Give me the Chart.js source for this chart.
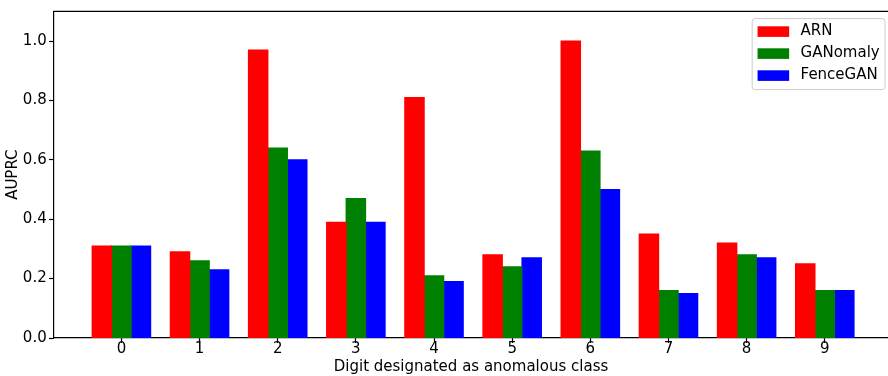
<!DOCTYPE html>
<html>
<head>
<meta charset="utf-8">
<script src="https://cdn.jsdelivr.net/npm/chart.js@4.4.1/dist/chart.umd.min.js"></script>
<style>
  html, body { margin: 0; padding: 0; background: #fff; overflow: hidden; }
  #wrap { width: 888px; height: 376px; }
</style>
</head>
<body>
<div id="wrap"><canvas id="c" width="888" height="376"></canvas></div>
<script>
// Digit held out as the anomalous class
const digits = ['0', '1', '2', '3', '4', '5', '6', '7', '8', '9'];

// AUPRC per method
const arn      = [0.31, 0.29, 0.97, 0.39, 0.81, 0.28, 1.00, 0.35, 0.32, 0.25];
const ganomaly = [0.31, 0.26, 0.64, 0.47, 0.21, 0.24, 0.63, 0.16, 0.28, 0.16];
const fencegan = [0.31, 0.23, 0.60, 0.39, 0.19, 0.27, 0.50, 0.15, 0.27, 0.16];

const methodNames = ['ARN', 'GANomaly', 'FenceGAN'];
const yTicks = [0.0, 0.2, 0.4, 0.6, 0.8, 1.0];

const FONT = 'DejaVu Sans';
const FONT_SIZE = 15;
const SPINE = 1.2;

const toPoints = vals => vals.map((v, i) => ({ x: i, y: v }));

// Framed legend in the upper-right corner of the plot
const boxedLegend = {
  id: 'boxedLegend',
  afterDraw(chart) {
    const { ctx, chartArea } = chart;
    const items = chart.data.datasets;
    ctx.save();
    ctx.font = FONT_SIZE + 'px "' + FONT + '"';
    const maxW = Math.max(...items.map(d => ctx.measureText(d.label).width));
    const padL = 5.4, patchW = 31.6, patchH = 10.6, gap = 11.4, padR = 5.3, rowH = 22;
    const w = padL + patchW + gap + maxW + padR;
    const h = 71;
    const right = chartArea.right - 3;
    const top = chartArea.top + 7.3;
    const left = right - w;
    ctx.beginPath();
    ctx.roundRect(left, top, w, h, 3);
    ctx.fillStyle = 'rgba(255,255,255,0.8)';
    ctx.fill();
    ctx.strokeStyle = '#cccccc';
    ctx.lineWidth = 1;
    ctx.stroke();
    ctx.textBaseline = 'middle';
    ctx.textAlign = 'left';
    items.forEach((d, i) => {
      const cy = top + 13 + i * rowH;
      ctx.fillStyle = d.backgroundColor;
      ctx.fillRect(left + padL, cy - patchH / 2, patchW, patchH);
      ctx.fillStyle = '#000';
      ctx.fillText(d.label, left + padL + patchW + gap, cy);
    });
    ctx.restore();
  }
};

// Top frame line of the axes box
const topSpine = {
  id: 'topSpine',
  afterDraw(chart) {
    const { ctx, chartArea } = chart;
    ctx.save();
    ctx.strokeStyle = '#000';
    ctx.lineWidth = SPINE;
    ctx.beginPath();
    ctx.moveTo(chartArea.left - SPINE / 2, chartArea.top);
    ctx.lineTo(chartArea.right, chartArea.top);
    ctx.stroke();
    ctx.restore();
  }
};

new Chart(document.getElementById('c'), {
  type: 'bar',
  data: {
    datasets: [
      { label: methodNames[0], data: toPoints(arn),      backgroundColor: '#ff0000' },
      { label: methodNames[1], data: toPoints(ganomaly), backgroundColor: '#008000' },
      { label: methodNames[2], data: toPoints(fencegan), backgroundColor: '#0000ff' }
    ]
  },
  options: {
    responsive: false,
    animation: false,
    devicePixelRatio: 1,
    layout: { padding: { top: 11, left: 0, right: 0, bottom: 0 } },
    datasets: {
      bar: { categoryPercentage: 0.75, barPercentage: 1.0, borderWidth: 0, inflateAmount: 0.5 }
    },
    plugins: {
      legend: { display: false },
      tooltip: { enabled: false }
    },
    scales: {
      x: {
        type: 'linear',
        min: -0.8625,
        max: 9.809,
        offset: false,
        afterBuildTicks: s => { s.ticks = digits.map((_, i) => ({ value: i })); },
        afterFit: s => { s.height = 38; },
        grid: {
          offset: false,
          drawOnChartArea: false,
          drawTicks: true,
          tickLength: 5,
          tickColor: '#000',
          tickWidth: SPINE
        },
        border: { display: true, color: '#000', width: SPINE },
        ticks: {
          color: '#000',
          padding: -2.7,
          maxRotation: 0,
          autoSkip: false,
          font: { family: FONT, size: FONT_SIZE },
          callback: v => digits[v]
        },
        title: {
          display: true,
          text: 'Digit designated as anomalous class',
          color: '#000',
          font: { family: FONT, size: FONT_SIZE },
          padding: { top: 0, bottom: 0.3 }
        }
      },
      y: {
        min: 0,
        max: 1.1,
        afterBuildTicks: s => { s.ticks = yTicks.map(v => ({ value: v })); },
        afterFit: s => { s.width = 54; },
        grid: {
          drawOnChartArea: false,
          drawTicks: true,
          tickLength: 5,
          tickColor: '#000',
          tickWidth: SPINE
        },
        border: { display: true, color: '#000', width: SPINE },
        ticks: {
          color: '#000',
          padding: 2.3,
          font: { family: FONT, size: FONT_SIZE },
          callback: v => v.toFixed(1)
        },
        title: {
          display: true,
          text: 'AUPRC',
          color: '#000',
          font: { family: FONT, size: FONT_SIZE },
          padding: { top: 4.3, bottom: 0 }
        }
      }
    }
  },
  plugins: [boxedLegend, topSpine]
});
</script>
</body>
</html>
